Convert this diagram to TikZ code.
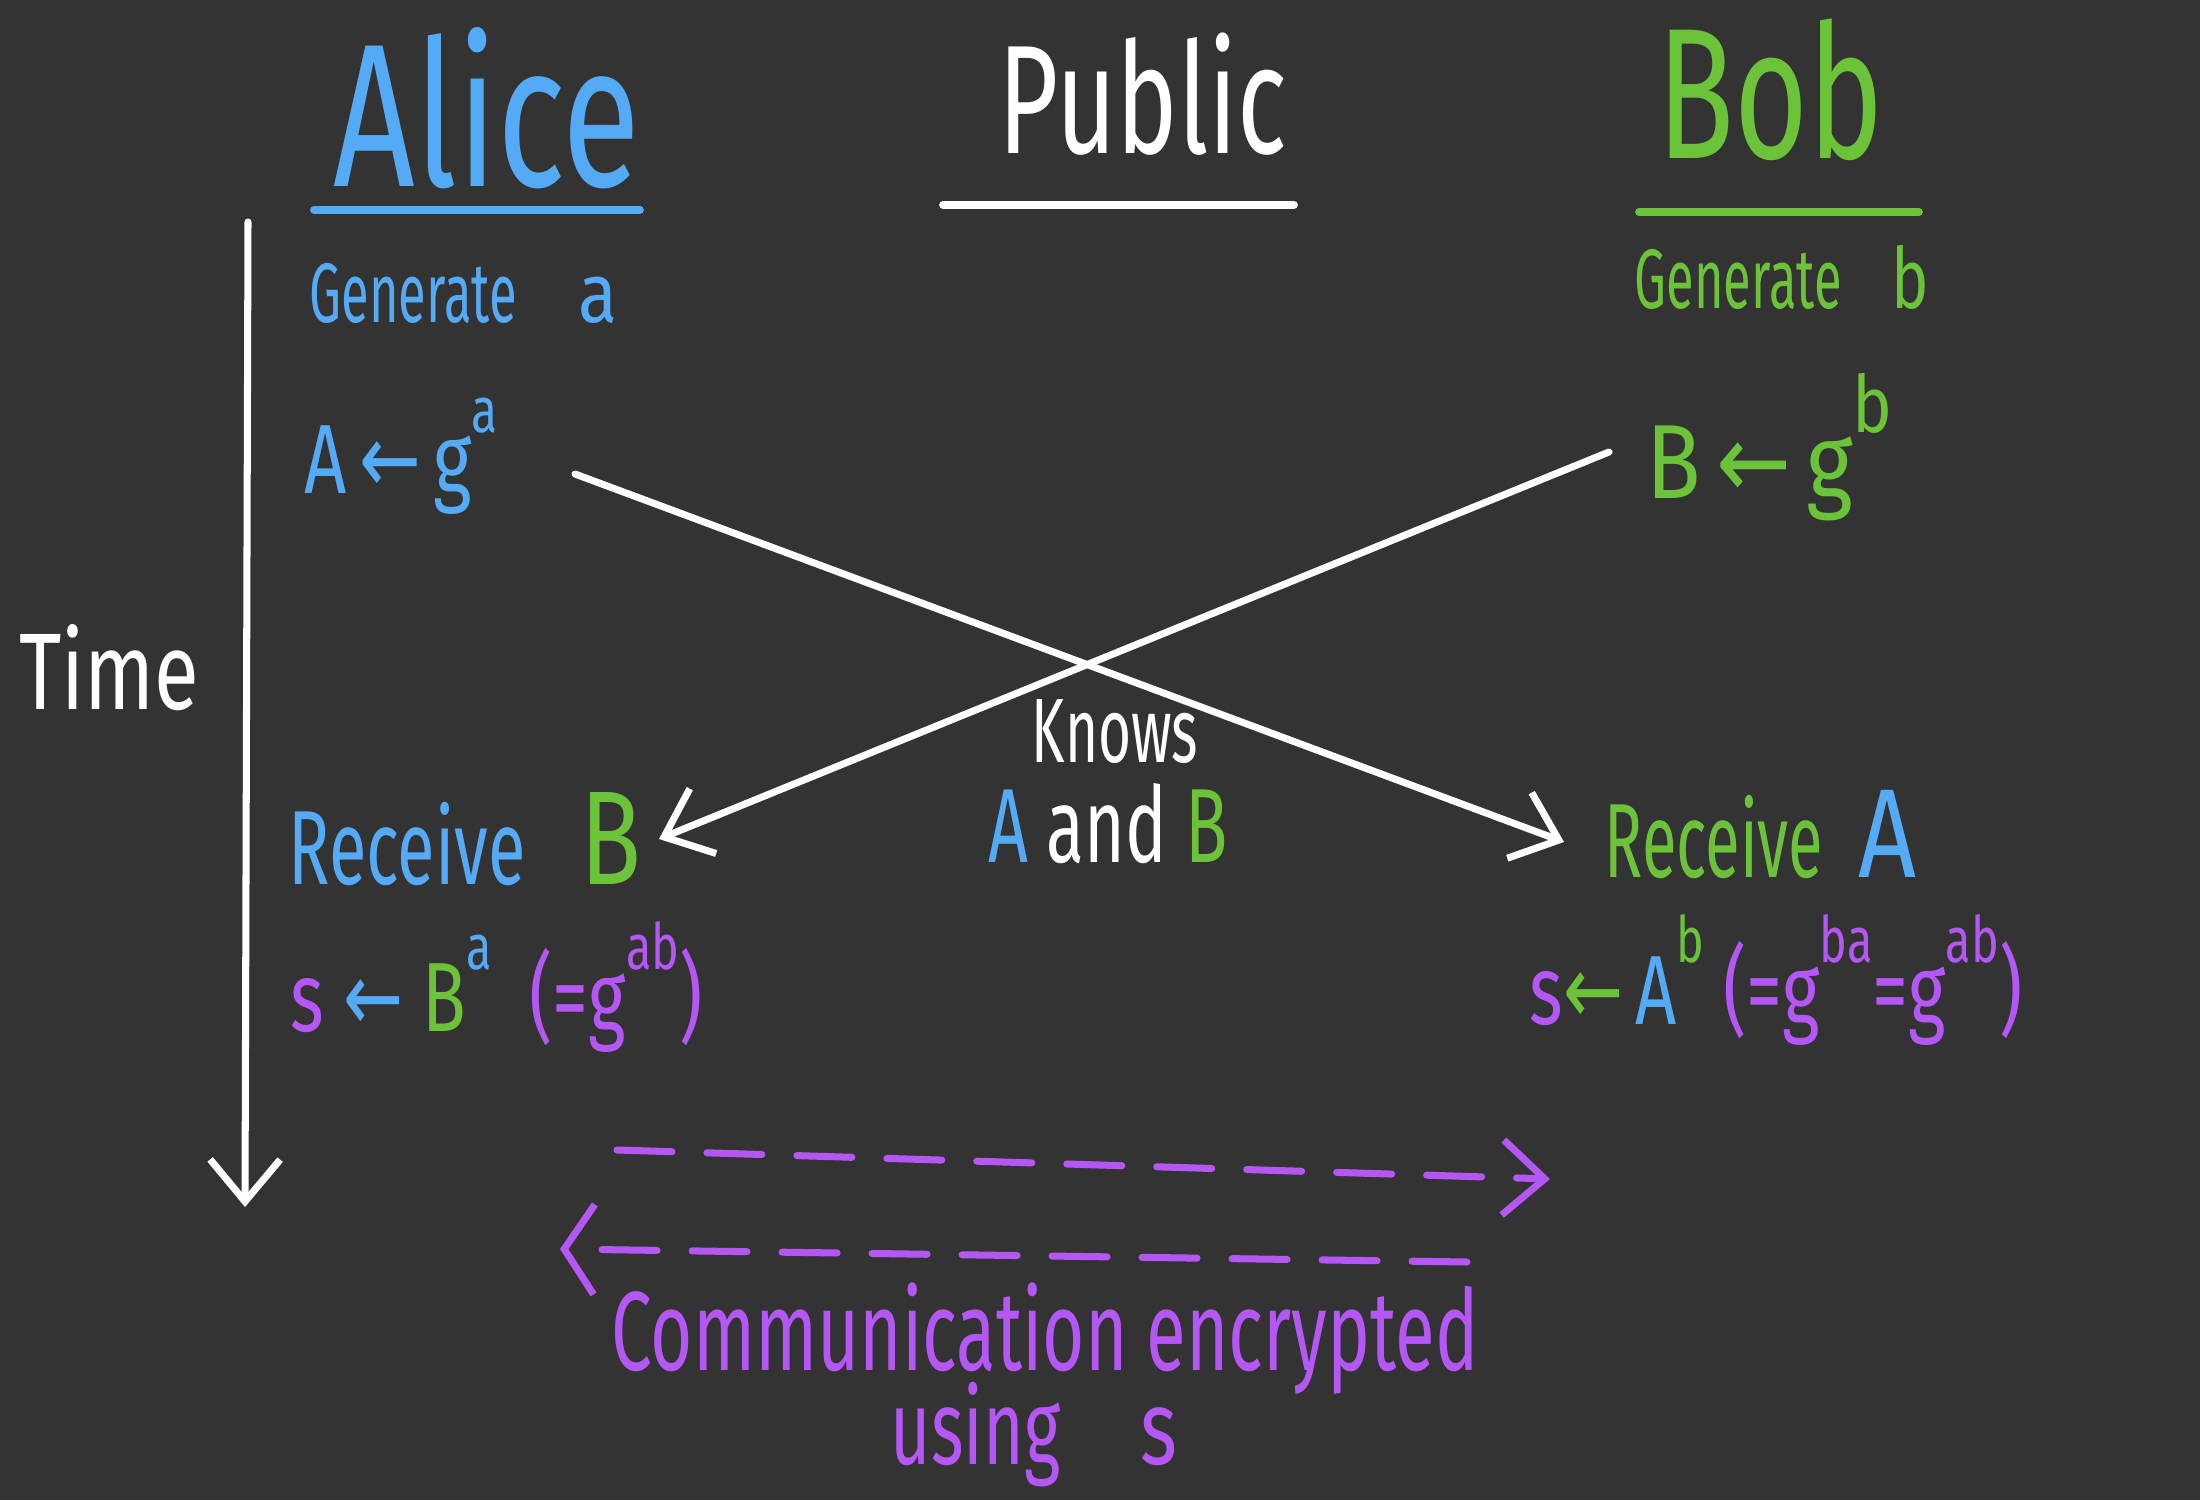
\documentclass[tikz,border=0pt]{standalone}
\usepackage{fontspec}
\usepackage{graphicx}
\setmainfont{Fira Sans}
\newfontfamily\arrfont{DejaVu Sans}
\usetikzlibrary{arrows.meta}
\definecolor{bgc}{HTML}{333333}
\definecolor{cblue}{HTML}{55AAF5}
\definecolor{cgreen}{HTML}{6CC33A}
\definecolor{cpurple}{HTML}{B557F5}
\newcommand\up[1]{\raisebox{0.62em}{\scalebox{0.65}{#1}}}
\newcommand\lar{{\arrfont ←}}
\newcommand\fs[1]{\fontsize{#1}{#1}\selectfont}
\newcommand\sq[2]{\scalebox{#1}[1]{#2}}
\begin{document}
\begin{tikzpicture}[x=1cm,y=1cm,
  txt/.style={inner sep=0pt, text=white},
  ln/.style={draw=white, line width=2pt, line cap=round, line join=round},
  barb/.style={-{Straight Barb[length=0.42cm,width=0.7cm,line width=2pt]}},
  uline/.style={line width=2.2pt, line cap=round},
  dsh/.style={draw=cpurple, line width=2pt, line cap=round, dash pattern=on 0.55cm off 0.35cm}]
\fill[bgc] (0,0) rectangle (22,15);
\useasboundingbox (0,0) rectangle (22,15);

% headings
\node[txt, anchor=base, text=cblue] (alice) at (4.87,13.13) {\fs{58}\sq{0.7}{Alice}};
\node[txt, anchor=base] (public) at (11.43,13.46) {\fs{44}\sq{0.67}{Public}};
\node[txt, anchor=base, text=cgreen] (bob) at (17.71,13.41) {\fs{53}\sq{0.68}{Bob}};
\draw[uline, cblue] (3.14,12.90) -- (6.40,12.90);
\draw[uline, white] (9.43,12.95) -- (12.94,12.95);
\draw[uline, cgreen] (16.39,12.88) -- (19.19,12.88);

% time
\coordinate (ttop) at (2.48,12.78);
\coordinate (tbot) at (2.45,2.93);
\draw[ln, barb] (ttop) -- (tbot);
\node[txt, anchor=base] (time) at (1.09,7.91) {\fs{31}\sq{0.75}{Time}};

% left column
\node[txt, anchor=base west, text=cblue] (gena) at (3.09,11.77) {\fs{24}\sq{0.6}{Generate}\hspace{0.62cm}\sq{0.85}{a}};
\node[txt, anchor=base west, text=cblue] (Aga) at (3.04,10.06) {\fs{28}\sq{0.75}{A\,\lar\,g\up{a}}};
\node[txt, anchor=base west] (recB) at (2.88,6.16) {\fs{30}\textcolor{cblue}{\sq{0.65}{Receive}}\hspace{0.55cm}\textcolor{cgreen}{\fs{38}\sq{0.75}{B}}};
\node[txt, anchor=base west] (sA) at (2.90,4.69) {\fs{28}\sq{0.73}{\textcolor{cpurple}{s}\ \textcolor{cblue}{\lar}\ \textcolor{cgreen}{B}\textcolor{cblue}{\up{a}}\ \ \textcolor{cpurple}{(=g\up{ab})}}};

% right column
\node[txt, anchor=base west, text=cgreen] (genb) at (16.34,11.91) {\fs{24}\sq{0.6}{Generate}\hspace{0.5cm}\sq{0.75}{b}};
\node[txt, anchor=base west, text=cgreen] (Bgb) at (16.46,10.02) {\fs{30}\sq{0.85}{B\,\lar\,g\raisebox{0.62em}{\scalebox{0.75}{b}}}};
\node[txt, anchor=base west] (recA) at (16.04,6.23) {\fs{30}\textcolor{cgreen}{\sq{0.6}{Receive}}\hspace{0.35cm}\textcolor{cblue}{\fs{36}\sq{0.8}{A}}};
\node[txt, anchor=base west] (sB) at (15.29,4.76) {\fs{28}\sq{0.73}{\textcolor{cpurple}{s}\textcolor{cgreen}{\lar}\,\textcolor{cblue}{A}\textcolor{cgreen}{\up{b}}\ \textcolor{cpurple}{(=g\up{ba}=g\up{ab})}}};

% public knowledge
\node[txt, anchor=base] (knows) at (11.15,7.38) {\fs{26}\sq{0.62}{Knows}};
\node[txt, anchor=base] (aandb) at (11.08,6.38) {\fs{30}\sq{0.66}{\textcolor{cblue}{A} and \textcolor{cgreen}{B}}};

% exchange lines
\coordinate (a1) at (5.75,10.26);
\coordinate (a2) at (15.64,6.58);
\coordinate (b1) at (16.09,10.48);
\coordinate (b2) at (6.59,6.61);
\draw[ln, barb] (a1) -- (a2);
\draw[ln, barb] (b1) -- (b2);

% encrypted communication
\coordinate (c1) at (6.17,3.50);
\coordinate (c2) at (15.50,3.21);
\coordinate (d1) at (14.67,2.38);
\coordinate (d2) at (5.60,2.51);
\draw[dsh, -{Straight Barb[length=0.42cm,width=0.75cm,line width=2pt]}] (c1) -- (c2);
\draw[dsh, -{Straight Barb[length=0.3cm,width=0.9cm,line width=2pt]}] (d1) -- (d2);
\node[txt, anchor=base, text=cpurple] (comm) at (10.45,1.30) {\fs{32}\sq{0.645}{Communication encrypted}};
\node[txt, anchor=base, text=cpurple] (using) at (10.34,0.36) {\fs{30}\sq{0.66}{using}\hspace{0.8cm}\sq{0.75}{s}};
\end{tikzpicture}
\end{document}
